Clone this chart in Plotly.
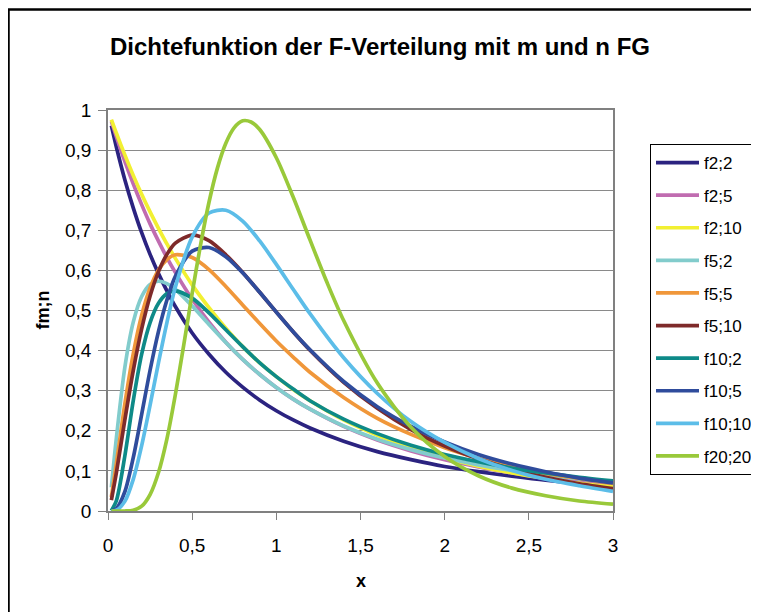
import plotly.graph_objects as go

# ---- data ----
x_vals = [0.02, 0.05, 0.1, 0.15, 0.2, 0.25, 0.3, 0.35, 0.4, 0.5, 0.6, 0.7, 0.8, 0.9,
          1.0, 1.1, 1.2, 1.4, 1.6, 1.8, 2.0, 2.2, 2.4, 2.6, 2.8, 3.0]

f2_2 = [0.961, 0.907, 0.826, 0.756, 0.694, 0.640, 0.592, 0.549, 0.510, 0.444, 0.391, 0.346, 0.309,
        0.277, 0.250, 0.227, 0.207, 0.174, 0.148, 0.128, 0.111, 0.098, 0.087, 0.077, 0.069, 0.063]
f2_5 = [0.972, 0.933, 0.872, 0.816, 0.764, 0.716, 0.673, 0.632, 0.595, 0.528, 0.471, 0.421, 0.378,
        0.341, 0.308, 0.279, 0.254, 0.211, 0.177, 0.150, 0.128, 0.110, 0.095, 0.083, 0.072, 0.063]
f2_10 = [0.976, 0.942, 0.888, 0.837, 0.790, 0.746, 0.705, 0.666, 0.630, 0.564, 0.507, 0.456, 0.410,
         0.370, 0.335, 0.303, 0.275, 0.227, 0.189, 0.158, 0.133, 0.112, 0.095, 0.081, 0.069, 0.060]
f5_2 = [0.059, 0.183, 0.358, 0.471, 0.535, 0.565, 0.573, 0.567, 0.553, 0.511, 0.465, 0.420, 0.378,
        0.341, 0.308, 0.279, 0.254, 0.212, 0.179, 0.153, 0.132, 0.115, 0.101, 0.090, 0.080, 0.072]
f5_5 = [0.035, 0.119, 0.267, 0.392, 0.488, 0.556, 0.601, 0.627, 0.639, 0.632, 0.602, 0.560, 0.514,
        0.468, 0.424, 0.384, 0.346, 0.283, 0.231, 0.191, 0.158, 0.132, 0.111, 0.094, 0.081, 0.069]
f5_10 = [0.027, 0.096, 0.227, 0.350, 0.454, 0.536, 0.597, 0.640, 0.668, 0.688, 0.674, 0.639, 0.595,
         0.546, 0.496, 0.447, 0.401, 0.321, 0.256, 0.203, 0.162, 0.130, 0.104, 0.084, 0.068, 0.056]
f10_2 = [0.001, 0.026, 0.137, 0.275, 0.391, 0.470, 0.518, 0.542, 0.549, 0.531, 0.494, 0.452, 0.410,
         0.370, 0.335, 0.304, 0.275, 0.229, 0.193, 0.164, 0.141, 0.123, 0.107, 0.095, 0.084, 0.075]
f10_5 = [0.000, 0.006, 0.048, 0.133, 0.241, 0.351, 0.448, 0.526, 0.585, 0.648, 0.657, 0.634, 0.594,
         0.546, 0.496, 0.447, 0.402, 0.323, 0.260, 0.211, 0.172, 0.141, 0.117, 0.098, 0.082, 0.070]
f10_10 = [0.000, 0.002, 0.024, 0.079, 0.163, 0.264, 0.370, 0.470, 0.558, 0.683, 0.743, 0.750, 0.723,
          0.674, 0.615, 0.553, 0.492, 0.382, 0.293, 0.223, 0.171, 0.131, 0.101, 0.079, 0.063, 0.049]

x_f20 = [0.02, 0.05, 0.1, 0.15, 0.2, 0.25, 0.3, 0.35, 0.4, 0.45, 0.5, 0.55, 0.6, 0.65, 0.7, 0.75,
         0.8, 0.85, 0.9, 1.0, 1.1, 1.2, 1.3, 1.4, 1.6, 1.8, 2.0, 2.2, 2.4, 2.6, 2.8, 3.0]
f20_20 = [0.0, 0.0, 0.0, 0.002, 0.012, 0.041, 0.096, 0.180, 0.290, 0.414, 0.543, 0.664, 0.770, 0.855,
          0.917, 0.956, 0.973, 0.970, 0.952, 0.881, 0.783, 0.676, 0.571, 0.475, 0.319, 0.209, 0.136,
          0.088, 0.057, 0.038, 0.025, 0.017]

series_names = ["f2;2", "f2;5", "f2;10", "f5;2", "f5;5", "f5;10", "f10;2", "f10;5", "f10;10", "f20;20"]
series_values = [f2_2, f2_5, f2_10, f5_2, f5_5, f5_10, f10_2, f10_5, f10_10, f20_20]
series_x = [x_vals] * 9 + [x_f20]
series_colors = ["#2B2380", "#C06CB0", "#F2F032", "#82CCCC", "#F0973A", "#7E2A2A",
                 "#0E8A88", "#2F4C9C", "#5CBDE8", "#99C93A"]

title_text = "Dichtefunktion der F-Verteilung mit m und n FG"
x_title = "x"
y_title = "fm;n"

FONT = "Liberation Sans, Arial, sans-serif"

fig = go.Figure()
for name, xs, ys, col in zip(series_names, series_x, series_values, series_colors):
    fig.add_trace(go.Scatter(
        x=xs, y=ys, mode="lines", name=name, legendgroup=name,
        line=dict(color=col, width=3.7, shape="spline", smoothing=0.8),
    ))

# The page body has an 8px margin, so the figure is drawn 8px in from the window corner.
OFF = 8
W, H = 759 - OFF, 612 - OFF
# plot area in window pixels: x 108..613, y 110..511
L, R, T, B = 108 - OFF, 613 - OFF, 110 - OFF, 511 - OFF

def px_x(p):  # window pixel -> paper x
    return (p - OFF - L) / (R - L)

def px_y(p):  # window pixel -> paper y
    return (B - (p - OFF)) / (B - T)

fig.update_layout(
    width=W, height=H,
    margin=dict(l=L, r=W - R, t=T, b=H - B, pad=0, autoexpand=False),
    paper_bgcolor="white", plot_bgcolor="white",
    separators=", ",
    font=dict(family=FONT, color="black", size=18),
    title=dict(text=title_text, x=(380 - OFF) / W, xanchor="center", xref="container",
               y=1 - (47 - OFF) / H, yanchor="middle", yref="container",
               font=dict(family=FONT, size=24, weight="bold", color="black")),
    showlegend=True,
    legend=dict(x=px_x(650), y=px_y(144), xanchor="left", yanchor="top",
                bordercolor="black", borderwidth=1, bgcolor="white",
                font=dict(family=FONT, size=17, color="black"),
                tracegroupgap=7.5, itemwidth=43, entrywidth=118),
    xaxis=dict(range=[0, 3], tick0=0, dtick=0.5, showgrid=False, zeroline=False,
               showline=True, linecolor="#808080", linewidth=1.5, mirror=True,
               ticks="outside", ticklen=7, tickcolor="#808080", ticklabelstandoff=9,
               tickfont=dict(family=FONT, size=19, color="black")),
    yaxis=dict(range=[0, 1], tick0=0, dtick=0.1, showgrid=True, gridcolor="#8a8a8a",
               gridwidth=1.2, zeroline=False,
               showline=True, linecolor="#808080", linewidth=1.5, mirror=True,
               ticks="outside", ticklen=8, tickcolor="#808080", ticklabelstandoff=3,
               tickfont=dict(family=FONT, size=19, color="black")),
    annotations=[
        dict(text=x_title, x=0.5, y=px_y(581), xref="paper", yref="paper",
             xanchor="center", yanchor="middle", showarrow=False,
             font=dict(family=FONT, size=18, weight="bold", color="black")),
        dict(text=y_title, x=px_x(42), y=0.5, xref="paper", yref="paper",
             xanchor="center", yanchor="middle", showarrow=False, textangle=-90,
             font=dict(family=FONT, size=18, weight="bold", color="black")),
    ],
    shapes=[
        dict(type="rect", xref="paper", yref="paper",
             x0=px_x(8.5), x1=px_x(800), y0=px_y(9.5), y1=px_y(660),
             line=dict(color="black", width=2.5), fillcolor="rgba(0,0,0,0)", layer="above"),
    ],
)

fig.write_html("out.html")
